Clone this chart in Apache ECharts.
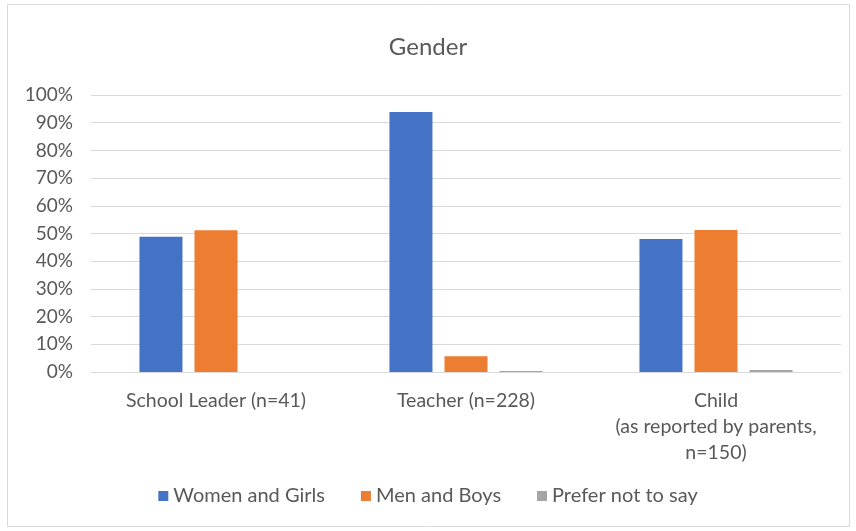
<!DOCTYPE html>
<html>
<head>
<meta charset="utf-8">
<script src="https://cdn.jsdelivr.net/npm/echarts@6/dist/echarts.min.js"></script>
<style>
  html, body { margin: 0; padding: 0; background: #fff; }
  #chart { width: 856px; height: 531px; }
</style>
</head>
<body>
<div id="chart"></div>
<script>
// categories and values (percent)
var categories = ['School Leader (n=41)', 'Teacher (n=228)', 'Child\n(as reported by parents,\nn=150)'];
var womenGirls = [48.8, 93.9, 48.0];
var menBoys = [51.2, 5.7, 51.3];
var preferNot = [0, 0.4, 0.7];
var yTicks = [0, 10, 20, 30, 40, 50, 60, 70, 80, 90, 100];

var font = 'Lato';
var grey = '#595959';

var chart = echarts.init(document.getElementById('chart'));

var option = {
    animation: false,
    color: ['#4472C4', '#ED7D31', '#A5A5A5'],
    title: {
        text: 'Gender',
        left: 'center',
        top: 30,
        textStyle: { color: grey, fontSize: 24, fontWeight: 'normal', fontFamily: font }
    },
    graphic: [{
        type: 'rect',
        shape: { x: 7.5, y: 4.5, width: 842, height: 522 },
        style: { fill: 'none', stroke: '#D9D9D9', lineWidth: 1 },
        silent: true
    }],
    legend: {
        bottom: 20,
        left: 'center',
        itemWidth: 10,
        itemHeight: 10,
        itemGap: 36,
        icon: 'rect',
        textStyle: { color: grey, fontSize: 20, fontFamily: font },
        data: ['Women and Girls', 'Men and Boys', 'Prefer not to say']
    },
    grid: { left: 91, right: 15, top: 95, bottom: 159, containLabel: false },
    xAxis: {
        type: 'category',
        data: categories,
        axisLine: { lineStyle: { color: '#D9D9D9' } },
        axisTick: { show: false },
        axisLabel: { color: grey, fontSize: 19.5, fontFamily: font, lineHeight: 26, margin: 16, interval: 0, hideOverlap: false }
    },
    yAxis: {
        type: 'value',
        min: yTicks[0],
        max: yTicks[yTicks.length - 1],
        interval: 10,
        axisLine: { show: false },
        axisTick: { show: false },
        splitLine: { lineStyle: { color: '#D9D9D9' } },
        axisLabel: { color: grey, fontSize: 19, fontFamily: font, margin: 18, formatter: '{value}%' }
    },
    series: [
        { name: 'Women and Girls', type: 'bar', data: womenGirls, barWidth: 43, barGap: '28%' },
        { name: 'Men and Boys', type: 'bar', data: menBoys, barWidth: 43, barGap: '28%' },
        { name: 'Prefer not to say', type: 'bar', data: preferNot, barWidth: 43, barGap: '28%' }
    ]
};

chart.setOption(option);
</script>
</body>
</html>
